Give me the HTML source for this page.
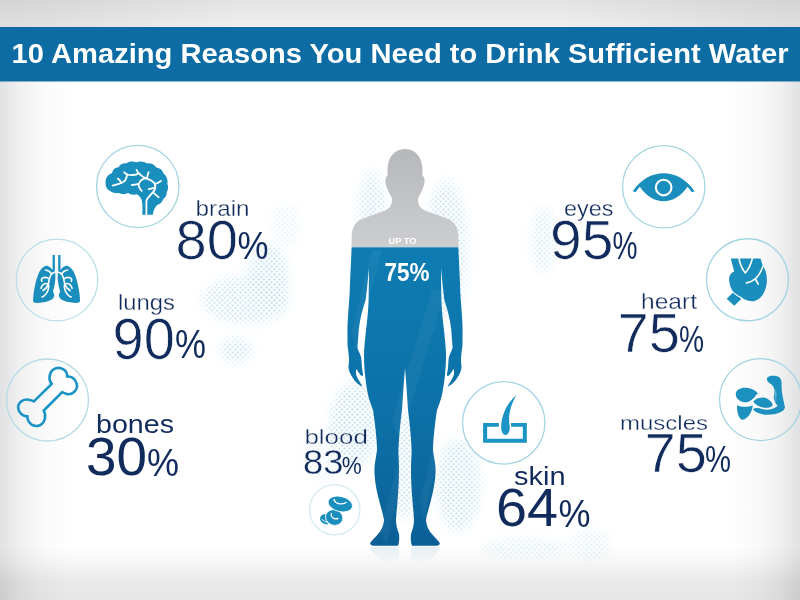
<!DOCTYPE html>
<html lang="en">
<head>
<meta charset="utf-8">
<title>10 Amazing Reasons You Need to Drink Sufficient Water</title>
<style>
  html, body { margin: 0; padding: 0; }
  body { width: 800px; height: 600px; overflow: hidden; background: #e6e6e6; font-family: "Liberation Sans", sans-serif; }
  svg { display: block; position: absolute; left: 0; top: 0; }
  .lbl { fill: #112b5c; font-family: "Liberation Sans", sans-serif; }
  .thin { stroke: #ffffff; stroke-width: 0.3; }
  .thin2 { stroke: #ffffff; stroke-width: 0.7; }
  .ttl { fill: #ffffff; font-family: "Liberation Sans", sans-serif; font-weight: bold; }
</style>
</head>
<body>
<svg width="800" height="600" viewBox="0 0 800 600">
  <defs>
    <linearGradient id="gTop" x1="0" y1="0" x2="0" y2="1">
      <stop offset="0" stop-color="#e3e3e3"/><stop offset="1" stop-color="#efefef"/>
    </linearGradient>
    <linearGradient id="gTopH" x1="0" y1="0" x2="1" y2="0">
      <stop offset="0" stop-color="#000000" stop-opacity="0.07"/><stop offset="0.3" stop-color="#000000" stop-opacity="0"/><stop offset="0.7" stop-color="#000000" stop-opacity="0"/><stop offset="1" stop-color="#000000" stop-opacity="0.07"/>
    </linearGradient>
    <linearGradient id="gBottom" x1="0" y1="0" x2="0" y2="1">
      <stop offset="0" stop-color="#000000" stop-opacity="0"/><stop offset="0.3" stop-color="#000000" stop-opacity="0.03"/><stop offset="0.62" stop-color="#000000" stop-opacity="0.08"/><stop offset="1" stop-color="#000000" stop-opacity="0.095"/>
    </linearGradient>
    <linearGradient id="gLeft" x1="0" y1="0" x2="1" y2="0">
      <stop offset="0" stop-color="#e0e1e2"/><stop offset="0.3" stop-color="#f1f1f2"/><stop offset="0.6" stop-color="#f9f9f9"/><stop offset="1" stop-color="#ffffff"/>
    </linearGradient>
    <linearGradient id="gRight" x1="1" y1="0" x2="0" y2="0">
      <stop offset="0" stop-color="#e0e1e2"/><stop offset="0.3" stop-color="#f1f1f2"/><stop offset="0.6" stop-color="#f9f9f9"/><stop offset="1" stop-color="#ffffff"/>
    </linearGradient>
    <filter id="soft" x="-30%" y="-30%" width="160%" height="160%"><feGaussianBlur stdDeviation="5"/></filter>
    <mask id="dotMask" maskUnits="userSpaceOnUse" x="0" y="0" width="800" height="600">
      <g fill="#ffffff" filter="url(#soft)">
        <ellipse cx="268" cy="278" rx="20" ry="34" opacity="0.9"/>
        <ellipse cx="246" cy="300" rx="44" ry="24" opacity="0.75"/>
        <ellipse cx="286" cy="225" rx="14" ry="22" opacity="0.35"/>
        <ellipse cx="236" cy="350" rx="16" ry="13" opacity="0.8"/>
        <ellipse cx="372" cy="210" rx="14" ry="40" opacity="0.7"/>
        <ellipse cx="446" cy="250" rx="22" ry="70" opacity="0.75"/>
        <ellipse cx="354" cy="425" rx="24" ry="42" opacity="0.9"/>
        <ellipse cx="322" cy="455" rx="18" ry="28" opacity="0.3"/>
        <ellipse cx="405" cy="465" rx="14" ry="55" opacity="0.8"/>
        <ellipse cx="458" cy="485" rx="22" ry="46" opacity="0.85"/>
        <ellipse cx="525" cy="548" rx="44" ry="10" opacity="0.5"/>
        <ellipse cx="590" cy="545" rx="20" ry="16" opacity="0.45"/>
        <ellipse cx="543" cy="240" rx="12" ry="34" opacity="0.6"/>
      </g>
    </mask>
    <linearGradient id="gRefl" x1="0" y1="0" x2="0" y2="1">
      <stop offset="0" stop-color="#3b8fc0" stop-opacity="0.14"/><stop offset="1" stop-color="#3b8fc0" stop-opacity="0"/>
    </linearGradient>
    <linearGradient id="gGray" x1="0" y1="0" x2="0" y2="1">
      <stop offset="0" stop-color="#b4b5b9"/><stop offset="1" stop-color="#cdced0"/>
    </linearGradient>
    <linearGradient id="gBlue" x1="0" y1="0" x2="0" y2="1">
      <stop offset="0" stop-color="#0e7cb2"/><stop offset="0.5" stop-color="#0c72a9"/><stop offset="0.8" stop-color="#0c679e"/><stop offset="1" stop-color="#0b5d95"/>
    </linearGradient>
    <pattern id="dots" width="5.2" height="5.2" patternUnits="userSpaceOnUse">
      <circle cx="1.3" cy="1.3" r="1.1" fill="#b1daeb"/>
      <circle cx="3.9" cy="3.9" r="1.1" fill="#b1daeb"/>
    </pattern>
    <!-- right half of the body; mirrored for the left half -->
    <path id="halfBody" d="M405,149 C416,149 422.5,158 422.5,170 L422.5,176 C425.2,176 425.2,184 423,187.5 C421.5,193 418.5,196 418,199 C418,205 420,208.5 426,211 L447,218.5 C454,221 458,227 458.4,236 L458.4,247 C459,265 460,280 460.3,292 C461.5,312 463,325 462.5,335 L462.5,345 C462,350 461,355 461,360 C461,363 461.6,365.5 461.5,368 C461,371 460,373 459,375 C457.5,377.5 456,380 454,382 C452,384 450,385.6 447.5,386.6 C449,384 450.7,381.5 452,379 C453,377 454,375 454,373 C454.2,371.5 454,370 453.5,369 C452.6,370.5 451.8,372 451,373 C450,374.5 449,375.6 448,376.2 C447.2,376 446.8,375 447,374 C447.2,372 447.8,370 448,368 C448.3,365 448.3,362.5 448.5,360 C448.8,357.5 449.3,355.5 450,354 C451,352 452,350 452.5,348 C452.6,345.5 452.2,343.5 452,341 C451.8,338 451.6,335 451.3,330 C450,318 447,308 444.4,300 C443,290 442,278 441,268 C441,278 441.2,290 441.4,300 C441.8,312 443,322 444,330 C445,340 446,348 446,355 C446,362 445.6,369 445,375 C444.2,382 443.2,389 442,395 C440.5,401 438.5,406 437,410 C435.8,418 435,424 434.4,430 C433.6,438 433,444 433,450 C434,458 435.6,464 435.6,470 C435.4,482 433,492 431,500 C429,508 427,514 426,520 C426.5,526 429,531 432,534 C435,538 439,541 439.8,543.2 C440,545 438,545.8 435,545.8 L412,545.8 C410.6,542 410.6,538 411,534 C412.5,530 414,525 414,520 C413.6,512 412.8,506 412.4,500 C411.4,488 411,478 411,470 C411,462 411.6,456 411.6,450 C411,436 409.6,422 408,410 C407,394 406,380 405,368 Z"/>
    <clipPath id="bodyClip">
      <use href="#halfBody"/>
      <use href="#halfBody" transform="translate(810,0) scale(-1,1)"/>
    </clipPath>
  </defs>

  <!-- background -->
  <rect x="0" y="0" width="800" height="600" fill="#ffffff"/>
  <rect x="0" y="0" width="800" height="27" fill="url(#gTop)"/>
  <rect x="0" y="0" width="800" height="27" fill="url(#gTopH)"/>
  <!-- edge vignette -->
  <rect x="0" y="27" width="70" height="573" fill="url(#gLeft)"/>
  <rect x="730" y="27" width="70" height="573" fill="url(#gRight)"/>
  <rect x="0" y="545" width="800" height="55" fill="url(#gBottom)"/>

  <!-- halftone dots -->
  <rect x="180" y="140" width="460" height="440" fill="url(#dots)" mask="url(#dotMask)"/>

  <!-- feet reflection -->
  <g clip-path="url(#bodyClip)" transform="translate(0,1092.2) scale(1,-1)">
    <rect x="360" y="528" width="90" height="19" fill="url(#gRefl)" transform="translate(0,1075) scale(1,-1)"/>
  </g>

  <!-- body -->
  <g clip-path="url(#bodyClip)">
    <rect x="330" y="140" width="150" height="107.3" fill="url(#gGray)"/>
    <rect x="330" y="247.3" width="150" height="310" fill="url(#gBlue)"/>
    <g fill="#ffffff" opacity="0.045">
      <polygon points="352,330 372,250 382,250 356,350"/>
      <polygon points="392,420 432,290 446,290 400,440"/>
      <polygon points="380,530 402,450 410,450 386,545"/>
      <polygon points="420,500 440,420 446,420 424,520"/>
    </g>
  </g>
  <text class="ttl" x="388.5" y="244" font-size="9" textLength="28" lengthAdjust="spacingAndGlyphs">UP TO</text>
  <text class="ttl" x="384.5" y="281" font-size="25" textLength="45" lengthAdjust="spacingAndGlyphs">75%</text>

  <!-- icon circles -->
  <g fill="none" stroke="#a3d4e1" stroke-width="1.3">
    <circle cx="137.75" cy="186.5" r="41.2"/>
    <circle cx="57" cy="280" r="40.8" stroke="#bcdfe9"/>
    <circle cx="47.5" cy="400" r="41" stroke="#b4dbe6"/>
    <circle cx="663.75" cy="186.75" r="41.2"/>
    <circle cx="747.5" cy="279.75" r="41"/>
    <circle cx="760.5" cy="399.6" r="41"/>
    <circle cx="503.75" cy="422.85" r="41.2" fill="#ffffff"/>
    <circle cx="334.75" cy="509.75" r="25.2" stroke="#d3ebf1" fill="#ffffff"/>
  </g>


  <!-- icons -->
  <g fill="#1a8ebd">
    <!-- brain -->
    <path d="M105.6,184 C105,178 108,174.5 112,173.3 C112.5,169.5 115,167.5 118.5,167.3 C120,164 123,163 126.5,163.3 C129,161 133,161.2 136.5,162.2 C140,160.8 144,161.6 147,163.4 C151,163 154.5,164.5 156.3,167.5 C160,168 162.5,170 163.3,173.3 C166.5,175.5 168,179.5 167.4,183.8 C168.5,187 168.2,190 166.8,192 C166.8,195.5 165.5,197.5 163.3,199 C162.3,202 160.3,204 157.5,204.8 C155,207 153.5,210 152.8,214.8 L142.3,214.8 C142.6,209 142.6,204 141.7,200.1 C140.5,197 138.5,195.2 136.5,194.3 C133.5,195.3 130.5,194.8 128.3,193.1 C125,194.6 121.5,194.6 119,193.1 C115.5,193.6 112,192.8 109.7,190.8 C107,189.5 105.8,187 105.6,184 Z"/>
    <g fill="none" stroke="#ffffff" stroke-width="1.8" stroke-linecap="round" stroke-linejoin="round">
      <path d="M146.4,214.6 L146.4,201 C147.5,196 154,193.5 155.1,188.5 C155.6,186 155.2,184 154,182.7 C152,180.5 149.5,179.5 147,178.6 C143.5,177.5 140.8,175.5 138.8,173.3 C137.6,172.2 136.9,171 136.5,169.8"/>
      <path d="M138.8,173.3 C136.8,174.6 134.8,175 133,175 C131,175.2 129,175 127.2,174.5 C125.8,174 124.8,173.2 124.2,172.2"/>
      <path d="M127.2,174.5 C126.8,177 126,179.2 124.8,180.9 C123,182.5 121,183.3 119,183.8 C117,184.5 114.8,185 112.6,185.6"/>
      <path d="M121.3,182.8 C120.4,181 119.2,179.6 117.8,178.6"/>
      <path d="M147,178.6 C147.2,176.3 147.8,174.2 148.7,172.2"/>
      <path d="M155,184 C157,183.4 159,182.3 161,180.9"/>
      <path d="M145.5,178.4 C143,178.8 141,180 140,181.5 C138.6,183.2 138.3,184.8 138.8,186.2 C139.3,188 140.4,189.6 141.7,190.8"/>
      <path d="M131.8,185 C134,184.9 136.2,184.5 138.4,183.8"/>
      <path d="M148.7,189.2 C150.5,189 152.3,188.5 154,187.9"/>
      <path d="M154,193.1 C155.5,194.6 157,196 158.6,197.2"/>
    </g>

    <!-- lungs -->
    <g id="lungL">
      <path d="M52.6,254.9 L54.9,254.9 L54.9,271 C55.6,275 55.6,279 54.8,283.5 C54.3,287 53.4,289.8 52.9,291.7 C54,293.2 54.5,294.8 54.1,296.3 C53.5,298 52.5,299.2 51.2,299.8 C48.5,301.3 45.8,302 43,302.3 C40,302.8 37.2,303 34.8,302.8 C33.4,302.4 32.9,301.2 33.1,299.8 C33.2,296 33.6,292.6 34.3,289.3 C35.2,283.8 36.5,278.8 38.3,274.2 C39.8,270.5 41.8,268 44.2,266.6 C45.5,265.7 46.7,265.5 47.7,266 C49.2,266.5 50.4,267.3 51.2,268.3 C51.8,269 52.3,269.8 52.6,270.6 Z"/>
      <g fill="none" stroke="#ffffff" stroke-width="1.6" stroke-linecap="round">
        <path d="M56.5,271.5 C54,272 52,273.2 50.8,275 C49.3,278 49,281 48.3,284 C47.5,287 45.5,289 43,290.5"/>
        <path d="M51.5,273.8 C50,271.5 48,270.2 45.5,270"/>
        <path d="M49.3,279 C47.5,277.5 45,277 43,277.8 C41.5,278.6 41,280 41.8,281.3"/>
        <path d="M48.5,284 C46.5,283.2 44.5,283.5 43,284.8 C42,285.8 41.3,287 41,288.2"/>
        <path d="M48.8,285.5 C48.8,289 47.5,292.5 45,295 C44,296 43,296.7 42,297"/>
      </g>
    </g>
    <use href="#lungL" transform="translate(113.1,0) scale(-1,1)"/>

    <!-- eye -->
    <path d="M632.8,191.2 C640.5,179.5 652,173.2 663.65,173.2 C675.3,173.2 686.8,179.5 694.5,191.2 L691.8,192.2 C690.3,190 688.8,188.2 687.4,186.8 C681,196.5 672.5,201.2 663.65,201.2 C654.8,201.2 646.3,196.5 639.9,186.8 C638.5,188.2 637,190 635.5,192.2 Z"/>
    <circle cx="663.65" cy="187.6" r="7.8" fill="none" stroke="#ffffff" stroke-width="2.1"/>

    <!-- heart -->
    <g transform="translate(708,245) scale(0.11662)">
      <path d="M195,115 L450,115 L470,178 C500,215 510,280 503,330 C495,400 455,465 400,480 C350,490 305,465 278,442 L283,465 L225,520 L160,460 L218,405 C190,365 175,310 183,275 C188,250 205,235 225,228 Z"/>
      <g fill="none" stroke="#ffffff" stroke-width="14" stroke-linecap="round" stroke-linejoin="round">
        <path d="M212,402 C235,425 258,440 284,452" stroke-width="9"/>
        <path d="M265,115 C275,165 295,210 320,240 C350,205 370,160 380,115"/>
        <path d="M470,185 C455,230 435,265 405,290 C385,308 360,320 330,325"/>
        <path d="M405,290 C415,305 423,320 430,335"/>
      </g>
    </g>

    <!-- muscles -->
    <g transform="translate(720,365) scale(0.11662)" fill="#1c90bf">
      <path d="M135,250 C135,215 175,192 225,195 C270,198 310,220 325,245 C300,260 290,300 240,318 C200,328 135,300 135,250 Z"/>
      <path d="M147,345 C190,365 240,360 282,348 C275,400 240,465 195,470 C165,470 140,400 147,345 Z"/>
      <path d="M285,312 C310,285 350,272 385,280 C420,290 450,320 452,345 C430,372 380,372 340,355 C315,345 295,330 285,312 Z"/>
      <path d="M282,380 C300,365 330,368 360,378 C400,390 460,385 495,350 C470,330 455,290 465,250 C470,220 470,195 440,165 C410,150 395,130 405,110 C415,90 470,88 500,100 C525,110 530,140 528,170 C525,230 545,300 557,365 C550,400 500,420 440,425 C380,430 310,420 282,380 Z"/>
      <path d="M478,200 C488,240 486,290 478,320 C470,285 468,240 478,200 Z" fill="#5db4d6"/>
    </g>

    <!-- skin -->
    <g transform="translate(465,388) scale(0.11662)" fill="#1b93c4">
      <path d="M155,300 L290,300 L290,333 L190,333 L190,436 L496,436 L496,333 L395,333 L395,300 L530,300 L530,470 L155,470 Z"/>
      <path d="M440,62 C380,110 325,200 312,300 C305,350 315,400 347,402 C380,400 390,350 380,300 C370,230 395,140 440,62 Z"/>
    </g>

    <!-- blood -->
    <g transform="translate(305,480) scale(0.1)">
      <path d="M150,385 C155,350 185,335 215,345 C200,375 205,410 235,440 C215,450 150,430 150,385 Z"/>
      <path d="M170,395 C185,405 200,415 220,425" fill="none" stroke="#ffffff" stroke-width="9" stroke-linecap="round"/>
      <ellipse cx="292" cy="375" rx="88" ry="78" transform="rotate(20 292 375)" stroke="#ffffff" stroke-width="8"/>
      <path d="M262,335 C255,370 285,395 330,385" fill="none" stroke="#ffffff" stroke-width="13" stroke-linecap="round"/>
      <ellipse cx="353" cy="240" rx="125" ry="76" transform="rotate(14 353 240)" stroke="#ffffff" stroke-width="8"/>
      <path d="M290,193 C300,235 360,255 412,225" fill="none" stroke="#ffffff" stroke-width="13" stroke-linecap="round"/>
    </g>
  </g>

  <!-- bone -->
  <g transform="translate(10,362) scale(0.11662)">
    <path fill="none" stroke="#1993c4" stroke-width="22" stroke-linejoin="round" d="M205,338 L358,188 C330,160 330,95 372,65 C410,38 470,50 488,100 C490,110 491,118 490,126 C520,120 560,140 572,185 C585,235 540,290 480,272 C465,268 455,264 447,258 L288,418 C312,450 305,520 255,542 C205,562 155,530 150,478 C148,474 149,470 150,466 C115,470 75,440 70,395 C66,345 120,310 170,325 C185,328 196,332 205,338 Z"/>
  </g>

  <!-- labels -->
  <g class="lbl">
    <text class="thin" x="195.6" y="216.2" font-size="22" textLength="54" lengthAdjust="spacingAndGlyphs">brain</text>
    <text class="thin2" x="175.5" y="259.4" font-size="55.3" textLength="62.4" lengthAdjust="spacingAndGlyphs">80</text>
    <text x="237.6" y="259.2" font-size="39.5" textLength="31" lengthAdjust="spacingAndGlyphs">%</text>

    <text class="thin" x="118" y="309.5" font-size="22" textLength="57" lengthAdjust="spacingAndGlyphs">lungs</text>
    <text class="thin2" x="112.5" y="358.6" font-size="56.8" textLength="62.4" lengthAdjust="spacingAndGlyphs">90</text>
    <text x="175" y="358.4" font-size="40.5" textLength="31" lengthAdjust="spacingAndGlyphs">%</text>

    <text x="96" y="432.5" font-size="25" textLength="78" lengthAdjust="spacingAndGlyphs">bones</text>
    <text x="86" y="475" font-size="54.5" textLength="61" lengthAdjust="spacingAndGlyphs">30</text>
    <text x="147" y="475.5" font-size="38" textLength="32" lengthAdjust="spacingAndGlyphs">%</text>

    <text class="thin" x="304.4" y="443.6" font-size="21" textLength="63.5" lengthAdjust="spacingAndGlyphs">blood</text>
    <text class="thin" x="303" y="473.9" font-size="35.3" textLength="40.4" lengthAdjust="spacingAndGlyphs">83</text>
    <text x="341.8" y="473.5" font-size="24" textLength="20" lengthAdjust="spacingAndGlyphs">%</text>

    <text class="thin" x="564" y="216" font-size="22.5" textLength="49.5" lengthAdjust="spacingAndGlyphs">eyes</text>
    <text class="thin2" x="550" y="259.4" font-size="55.3" textLength="63.4" lengthAdjust="spacingAndGlyphs">95</text>
    <text x="612.5" y="259.2" font-size="38.5" textLength="25" lengthAdjust="spacingAndGlyphs">%</text>

    <text class="thin" x="641" y="308.7" font-size="22" textLength="56" lengthAdjust="spacingAndGlyphs">heart</text>
    <text class="thin2" x="617.5" y="351.9" font-size="55.3" textLength="62.4" lengthAdjust="spacingAndGlyphs">75</text>
    <text x="679" y="352" font-size="36" textLength="25" lengthAdjust="spacingAndGlyphs">%</text>

    <text class="thin" x="620" y="429.5" font-size="21" textLength="88" lengthAdjust="spacingAndGlyphs">muscles</text>
    <text class="thin2" x="644.5" y="472.4" font-size="55.3" textLength="62.4" lengthAdjust="spacingAndGlyphs">75</text>
    <text x="705" y="472.2" font-size="37.5" textLength="26" lengthAdjust="spacingAndGlyphs">%</text>

    <text x="514" y="485.4" font-size="25" textLength="51.5" lengthAdjust="spacingAndGlyphs">skin</text>
    <text x="496" y="526" font-size="54.5" textLength="62" lengthAdjust="spacingAndGlyphs">64</text>
    <text x="558.5" y="526.5" font-size="38" textLength="32" lengthAdjust="spacingAndGlyphs">%</text>
  </g>
  <!-- header -->
  <rect x="0" y="27" width="800" height="54.5" fill="#0d6ca4"/>
  <text class="ttl" x="11.6" y="63" font-size="28" textLength="777" lengthAdjust="spacingAndGlyphs">10 Amazing Reasons You Need to Drink Sufficient Water</text>
</svg>
</body>
</html>
